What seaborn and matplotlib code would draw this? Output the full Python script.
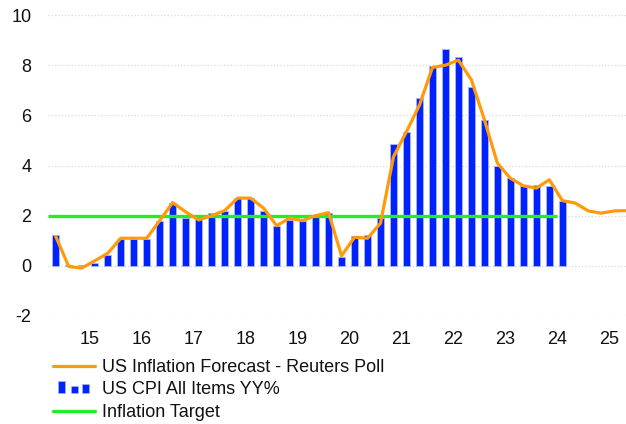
import numpy as np
import pandas as pd
import matplotlib
matplotlib.use('Agg')
import matplotlib.pyplot as plt
import seaborn as sns
from matplotlib.legend_handler import HandlerBase
from matplotlib.patches import Rectangle
from matplotlib.lines import Line2D

#  quarterly data, index 0 = Q2 2014 ... 39 = Q1 2024 (CPI), forecast runs to Q2 2025
cpi_yy = [1.23, 0.05, 0.02, 0.1, 0.44, 1.06, 1.06, 1.06, 1.8, 2.52,
          1.9, 1.96, 2.1, 2.2, 2.7, 2.7, 2.2, 1.59, 1.83, 1.77,
          1.96, 2.1, 0.35, 1.2, 1.23, 1.9, 4.85, 5.33, 6.68, 7.98,
          8.63, 8.34, 7.12, 5.82, 3.98, 3.52, 3.19, 3.24, 3.19, 2.6]
reuters_poll = [1.17, -0.03, -0.09, 0.2, 0.5, 1.1, 1.1, 1.1, 1.8, 2.52,
                2.15, 1.83, 2.0, 2.2, 2.7, 2.7, 2.3, 1.6, 1.9, 1.8,
                2.0, 2.12, 0.4, 1.14, 1.1, 1.7, 4.35, 5.35, 6.41, 7.91,
                8.0, 8.2, 7.41, 5.82, 4.09, 3.49, 3.19, 3.1, 3.43, 2.6,
                2.5, 2.19, 2.1, 2.19, 2.2]
inflation_target = 2.0
year_labels = ['15', '16', '17', '18', '19', '20', '21', '22', '23', '24', '25']

cpi_df = pd.DataFrame({'q': np.arange(len(cpi_yy)), 'val': cpi_yy})
poll_df = pd.DataFrame({'q': np.arange(len(reuters_poll)), 'val': reuters_poll})

sns.set_style('white')
plt.rcParams['font.family'] = ['Liberation Sans', 'DejaVu Sans']
plt.rcParams['axes.unicode_minus'] = False  # plain hyphen on -2

BLUE = '#0022ff'
ORANGE = '#ff9a0a'
GREEN = '#22ee22'

fig = plt.figure(figsize=(6.26, 4.24), dpi=100)
ax = fig.add_axes([48/626, 1-316/424, 1-48/626, (316-15)/424])

# grid first so marks sit on top
for yv in range(-2, 11, 2):
    ax.axhline(yv, color='#d8d8d8', linestyle=':', linewidth=0.9, zorder=0)

sns.barplot(data=cpi_df, x='q', y='val', native_scale=True, width=0.56,
            color=BLUE, edgecolor='#a8b0ff', linewidth=0.7, saturation=1,
            ax=ax, zorder=2)
ax.hlines(inflation_target, -0.6, 38.6, color=GREEN, linewidth=2.4, zorder=3)
sns.lineplot(data=poll_df, x='q', y='val', color=ORANGE, linewidth=2.3,
             ax=ax, zorder=4)

ax.set_xlim(-0.6, 43.9)
ax.set_ylim(-2, 10)
ax.set_yticks(range(-2, 11, 2))
ax.set_xticks([2.6 + 4*i for i in range(len(year_labels))])
ax.set_xticklabels(year_labels)
ax.tick_params(axis='both', length=0, labelsize=13, labelcolor='#111111')
ax.tick_params(axis='x', pad=11)
ax.tick_params(axis='y', pad=12)
ax.set_xlabel('')
ax.set_ylabel('')
sns.despine(ax=ax, left=True, bottom=True)


class ThreeBars(HandlerBase):
    #  legend glyph: three small bars
    def create_artists(self, legend, orig_handle, xdescent, ydescent,
                       width, height, fontsize, trans):
        out = []
        for x0, hh in [(0.12, 0.95), (0.43, 0.55), (0.71, 0.72)]:
            r = Rectangle((x0*width - xdescent, 0.1*height - ydescent),
                          0.16*width, hh*height, facecolor=BLUE,
                          edgecolor='#a8b0ff', linewidth=0.5, transform=trans)
            out.append(r)
        return out


h_line = Line2D([], [], color=ORANGE, linewidth=2.3)
h_bar = Rectangle((0, 0), 1, 1, color=BLUE)
h_tgt = Line2D([], [], color=GREEN, linewidth=2.4)
fig.legend([h_line, h_bar, h_tgt],
           ['US Inflation Forecast - Reuters Poll', 'US CPI All Items YY%', 'Inflation Target'],
           handler_map={Rectangle: ThreeBars()},
           loc='upper left', bbox_to_anchor=(53/626, 1-359/424),
           bbox_transform=fig.transFigure, frameon=False, fontsize=13,
           borderpad=0, borderaxespad=0, handlelength=2.3, handletextpad=0.4,
           labelspacing=0.3, labelcolor='#111111')

plt.savefig('out.png', dpi=100)
